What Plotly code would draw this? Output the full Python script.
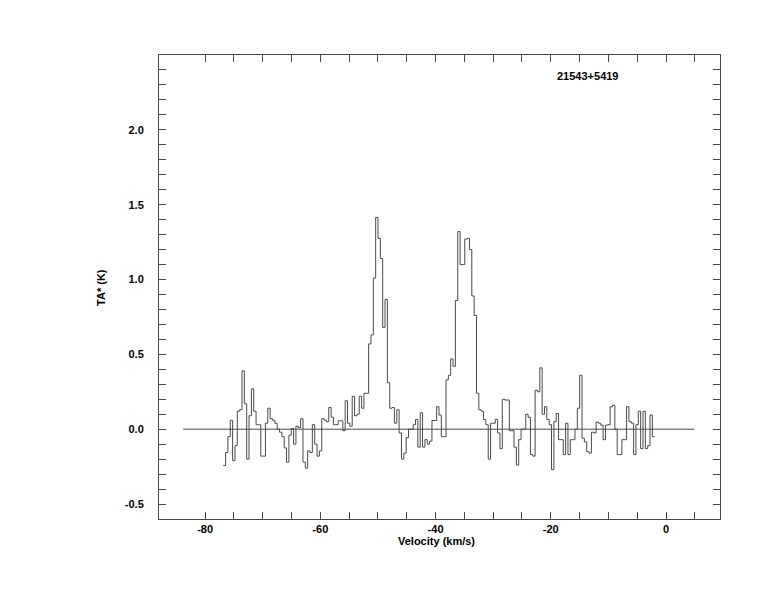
import plotly.graph_objects as go

# ---- data -------------------------------------------------------------
source_name = "21543+5419"
v_start = -76.85          # left edge of first channel (km/s)
channel_width = 0.407     # km/s
ta_values = [
    -0.243, -0.156, -0.05, 0.06, -0.21, -0.11, 0.12, 0.13, 0.39, 0.17,
    -0.20, 0.09, 0.27, 0.12, 0.03, 0.03, -0.18, -0.18, 0.04, 0.14,
    0.07, 0.06, 0.04, 0.0, -0.02, -0.05, -0.125, -0.22, -0.04, 0.005,
    -0.10, 0.02, 0.01, 0.07, -0.22, -0.26, -0.145, -0.156, 0.03, -0.10,
    -0.18, -0.145, 0.07, 0.06, 0.05, 0.145, 0.08, 0.03, 0.03, 0.056,
    0.056, -0.01, 0.19, 0.04, 0.02, 0.22, 0.09, 0.10, 0.22, 0.14,
    0.24, 0.24, 0.57, 0.63, 1.01, 1.415, 1.275, 1.14, 0.68, 0.867,
    0.31, 0.14, 0.145, 0.04, 0.13, -0.025, -0.20, -0.16, -0.056, 0.0,
    0.0, 0.03, 0.065, -0.12, 0.11, -0.12, -0.07, -0.10, -0.08, 0.058,
    0.058, 0.15, 0.094, -0.05, -0.05, 0.33, 0.36, 0.47, 0.42, 0.86,
    1.32, 1.10, 1.10, 1.27, 1.275, 1.20, 0.89, 0.76, 0.24, 0.13,
    0.12, 0.065, 0.03, -0.20, 0.04, 0.04, 0.065, -0.025, -0.13, 0.20,
    0.195, 0.195, -0.01, -0.01, -0.12, -0.24, -0.07, 0.0, 0.0, 0.10,
    0.08, -0.17, -0.18, 0.26, 0.25, 0.41, 0.10, 0.15, 0.065, 0.03,
    -0.27, 0.05, 0.105, -0.07, -0.07, -0.17, 0.04, -0.17, -0.07, -0.07,
    0.0, 0.14, 0.36, -0.06, -0.085, -0.15, -0.16, -0.02, -0.025, 0.047,
    0.04, 0.027, -0.07, 0.027, 0.03, 0.15, 0.16, 0.0, -0.17, -0.17,
    -0.07, -0.07, 0.15, 0.05, 0.04, -0.17, 0.03, 0.12, -0.13, 0.12,
    -0.13, -0.11, 0.095, -0.05,
]
baseline_v = [-83.8, 4.9]
baseline_t = [0.0, 0.0]

x_major = [-80, -60, -40, -20, 0]
x_major_text = ["-80", "-60", "-40", "-20", "0"]
x_minor = [-75, -70, -65, -55, -50, -45, -35, -30, -25, -15, -10, -5, 5]
y_major = [-0.5, 0.0, 0.5, 1.0, 1.5, 2.0]
y_major_text = ["-0.5", "0.0", "0.5", "1.0", "1.5", "2.0"]
y_minor = [round(-0.5 + 0.1 * i, 1) for i in range(30)]

x_title = "Velocity (km/s)"
y_title = "TA* (K)"

# ---- figure ------------------------------------------------------------
edges = [v_start + i * channel_width for i in range(len(ta_values) + 1)]
step_y = ta_values + [ta_values[-1]]

line_col = "#4a4a4a"
font_fam = "Liberation Sans, Arial, sans-serif"

fig = go.Figure()
fig.add_trace(go.Scatter(x=baseline_v, y=baseline_t, mode="lines",
                         line=dict(color=line_col, width=1), hoverinfo="skip"))
fig.add_trace(go.Scatter(x=edges, y=step_y, mode="lines", line_shape="hv",
                         line=dict(color=line_col, width=1)))

axis_common = dict(
    showline=True, linecolor=line_col, linewidth=1, mirror="allticks",
    ticks="inside", ticklen=7, tickwidth=1, tickcolor=line_col,
    showgrid=False, zeroline=False,
    tickfont=dict(family=font_fam, size=11, color="black", weight="bold"),
)

fig.update_layout(
    width=774, height=612,
    margin=dict(l=151, r=62, t=47, b=101),
    paper_bgcolor="white", plot_bgcolor="white",
    showlegend=False,
    xaxis=dict(range=[-88.0, 9.37], tickmode="array", tickvals=x_major,
               ticktext=x_major_text,
               minor=dict(tickmode="array", tickvals=x_minor, ticks="inside",
                          ticklen=7, tickcolor=line_col, showgrid=False),
               **axis_common),
    yaxis=dict(range=[-0.6, 2.5], tickmode="array", tickvals=y_major,
               ticktext=y_major_text, ticklabelstandoff=12,
               minor=dict(tickmode="array", tickvals=y_minor, ticks="inside",
                          ticklen=7, tickcolor=line_col, showgrid=False),
               **axis_common),
    annotations=[
        dict(text=source_name, xref="paper", yref="paper", x=0.763, y=0.9547,
             showarrow=False, xanchor="center", yanchor="middle",
             font=dict(family=font_fam, size=11, color="black", weight="bold")),
        dict(text=x_title, xref="paper", yref="paper", x=0.494, y=-0.0474,
             showarrow=False, xanchor="center", yanchor="middle",
             font=dict(family=font_fam, size=11, color="black", weight="bold")),
        dict(text=y_title, xref="paper", yref="paper", x=-0.1035, y=0.500,
             showarrow=False, xanchor="center", yanchor="middle", textangle=-90,
             font=dict(family=font_fam, size=11, color="black", weight="bold")),
    ],
)

fig.write_html("out.html")
